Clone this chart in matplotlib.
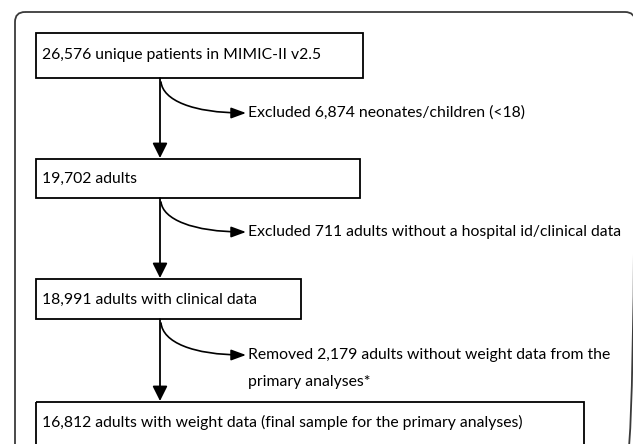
import matplotlib
matplotlib.use("Agg")
import matplotlib.pyplot as plt
from matplotlib.patches import FancyBboxPatch, Rectangle, FancyArrowPatch
from matplotlib.path import Path

# ---- content ----
box_labels = [
    "26,576 unique patients in MIMIC-II v2.5",
    "19,702 adults",
    "18,991 adults with clinical data",
    "16,812 adults with weight data (final sample for the primary analyses)",
]
exclusion_labels = [
    "Excluded 6,874 neonates/children (<18)",
    "Excluded 711 adults without a hospital id/clinical data",
    "Removed 2,179 adults without weight data from the\nprimary analyses*",
]

# ---- layout (pixels) ----
box_left = 36
box_rights = [363, 360, 301, 584]
box_tops = [33, 159, 279, 402]
box_bottoms = [78, 198, 319, 470]
text_ys = [55, 179, 300, 422]
arrow_x = 160
excl_arrow_y = [113, 232, 355]
line_gap = 27

FONT = ["Lato", "DejaVu Sans"]
FS = 11.3

fig = plt.figure(figsize=(6.33, 4.44), dpi=100)
ax = fig.add_axes([0, 0, 1, 1])
ax.set_xlim(0, 633)
ax.set_ylim(444, 0)
ax.axis("off")

# outer rounded frame
outer = FancyBboxPatch((15, 12), 620, 460, boxstyle="round,pad=0,rounding_size=10",
                       fill=False, edgecolor="#3a3a3a", linewidth=1.3)
ax.add_patch(outer)

for i, lab in enumerate(box_labels):
    r = Rectangle((box_left, box_tops[i]), box_rights[i] - box_left,
                  box_bottoms[i] - box_tops[i], fill=False,
                  edgecolor="black", linewidth=1.3)
    ax.add_patch(r)
    ax.text(box_left + 6, text_ys[i], lab, fontsize=FS, family=FONT,
            va="center", ha="left", color="black")

for i in range(3):
    # vertical arrow
    y0 = box_bottoms[i]
    y1 = box_tops[i + 1] - 1
    ax.annotate("", xy=(arrow_x, y1), xytext=(arrow_x, y0),
                arrowprops=dict(arrowstyle="-|>,head_length=0.9,head_width=0.45",
                                color="black", lw=1.3, shrinkA=0, shrinkB=0))
    # curved branch
    ya = excl_arrow_y[i]
    p0 = (arrow_x + 1, y0 + 4)
    verts = [p0, (arrow_x + 3, ya - 13), (arrow_x + 32, ya), (arrow_x + 86, ya)]
    path = Path(verts, [Path.MOVETO, Path.CURVE4, Path.CURVE4, Path.CURVE4])
    ax.add_patch(FancyArrowPatch(path=path,
                                 arrowstyle="-|>,head_length=9,head_width=3.3",
                                 color="black", lw=1.2, shrinkA=0, shrinkB=0))
    for j, line in enumerate(exclusion_labels[i].split("\n")):
        ax.text(arrow_x + 88, ya + j * line_gap, line, fontsize=FS,
                family=FONT, va="center", ha="left", color="black")

fig.savefig("out.png", dpi=100)
